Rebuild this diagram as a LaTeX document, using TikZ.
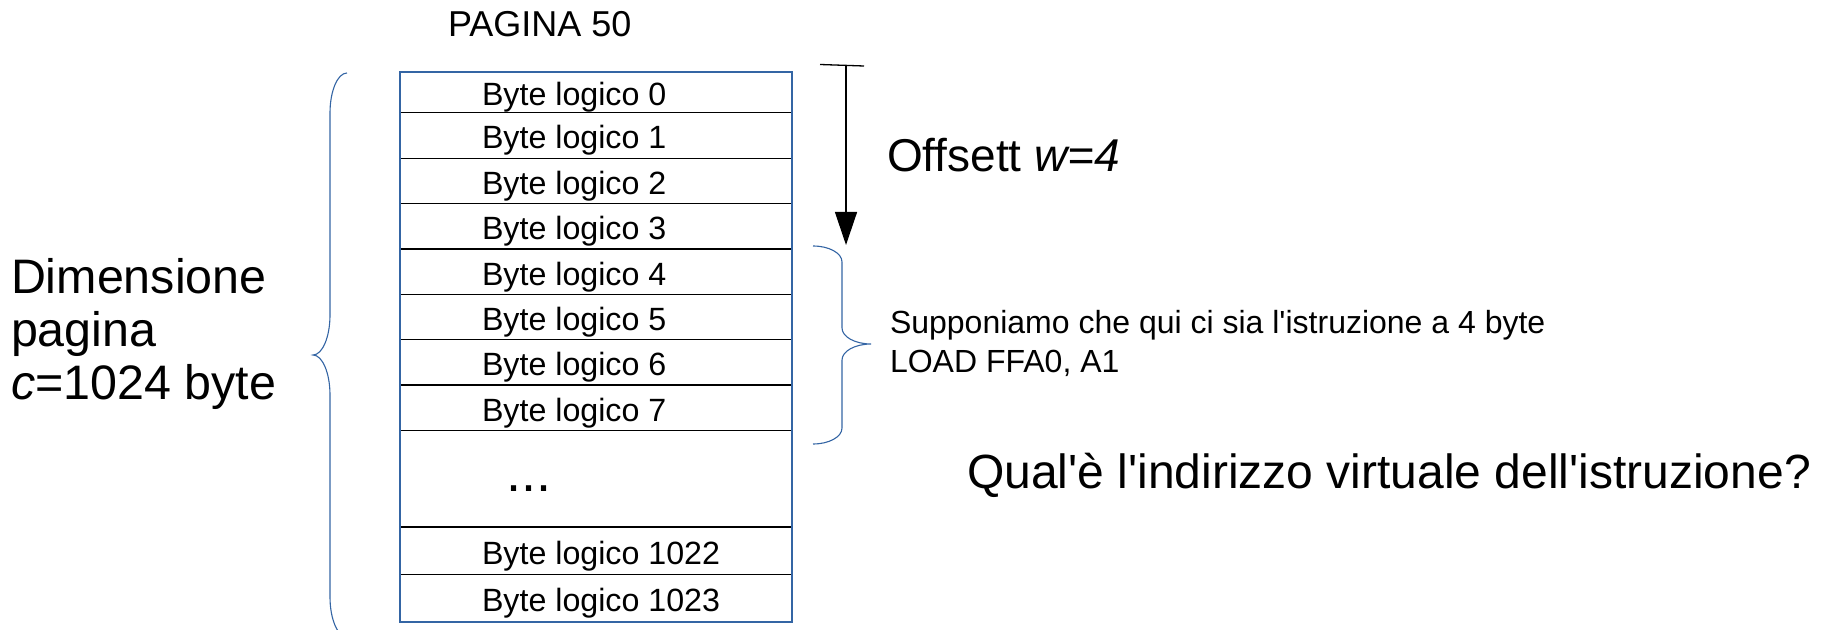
\documentclass[tikz,border=0pt]{standalone}
\usepackage{fontspec}
\setmainfont{Liberation Sans}[Ligatures=TeXOff]
\usetikzlibrary{arrows.meta}
\definecolor{lobrace}{HTML}{3465A4}
\begin{document}
\begin{tikzpicture}[x=0.5pt,y=-0.5pt,
  txt/.style={inner sep=0pt, outer sep=0pt, anchor=base west},
  cell/.style={txt, font=\fontsize{16.1pt}{19pt}\selectfont},
  sepline/.style={line width=0.65pt, black},
  frame/.style={draw=lobrace, line width=0.6pt},
  brace/.style={draw=lobrace, line width=0.55pt},
  arrowline/.style={line width=0.65pt, black},
]
\useasboundingbox (0,0) rectangle (1824,630);

% title
\node[txt, font=\fontsize{18pt}{21pt}\selectfont] (title) at (448,37) {PAGINA 50};

% row separators
\foreach \yy in {112.8,158.2,203.6,249,294.3,339.7,385,430.4,527,574.7}
  \draw[sepline] (400,\yy) -- (792,\yy);
% outer frame
\draw[frame] (400,72) rectangle (792,622);

% cell texts
\foreach \i/\yy in {0/105.5,1/149,2/194.4,3/239.8,4/285.2,5/330.5,6/375.9,7/421.2}
  \node[cell] (b\i) at (482,\yy) {Byte logico \i};
\node[txt, font=\fontsize{27pt}{30pt}\selectfont] (dots) at (506,491) {...};
\node[cell] (b1022) at (482,564.4) {Byte logico 1022};
\node[cell] (b1023) at (482,611.8) {Byte logico 1023};

% left label
\node[txt, font=\fontsize{24.2pt}{26.5pt}\selectfont] (dim1) at (11,294) {Dimensione};
\node[txt, font=\fontsize{24.2pt}{26.5pt}\selectfont] (dim2) at (11,347) {pagina};
\node[txt, font=\fontsize{24.2pt}{26.5pt}\selectfont] (dim3) at (11,400) {\textit{c}=1024 byte};

% left brace
\draw[brace] (347,73) .. controls (337.6,73) and (330,91) .. (330,113)
  -- (330,315) .. controls (330,337) and (322.4,355) .. (313,355)
  .. controls (322.4,355) and (330,373) .. (330,395)
  -- (330,597) .. controls (330,619) and (337.6,637) .. (347,637);

% offset arrow
\coordinate (atop) at (846,65);
\coordinate (atip) at (846,245);
\coordinate (barl) at (820,64.5);
\coordinate (barr) at (864,66);
\draw[arrowline] (barl) -- (barr);
\draw[arrowline, -{Triangle[length=16.5pt,width=11pt]}] (atop) -- (atip);
\node[txt, font=\fontsize{23pt}{26pt}\selectfont] (offs) at (887,172) {Offsett \textit{w=4}};

% right brace
\draw[brace] (813,246) .. controls (829,246) and (842,253) .. (842,262)
  -- (842,328) .. controls (842,336.8) and (855,344) .. (871,344)
  .. controls (855,344) and (842,351.2) .. (842,360)
  -- (842,428) .. controls (842,437) and (829,444) .. (813,444);

\node[txt, font=\fontsize{16pt}{18.5pt}\selectfont] (sup1) at (890,334) {Supponiamo che qui ci sia l'istruzione a 4 byte};
\node[txt, font=\fontsize{16pt}{18.5pt}\selectfont] (sup2) at (890,372) {LOAD FFA0, A1};

\node[txt, font=\fontsize{24pt}{27pt}\selectfont] (qual) at (967,488) {Qual'è l'indirizzo virtuale dell'istruzione?};
\end{tikzpicture}
\end{document}
